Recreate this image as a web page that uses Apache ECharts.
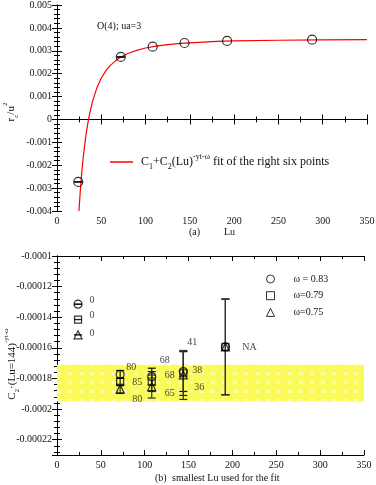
<!DOCTYPE html>
<html>
<head>
<meta charset="utf-8">
<script src="https://cdn.jsdelivr.net/npm/echarts@6/dist/echarts.min.js"></script>
<style>
html,body{margin:0;padding:0;background:#fff;}
#chart{width:376px;height:485px;}
</style>
</head>
<body>
<div id="chart"></div>
<script>
// ---------- Panel (a) data ----------
const topLu = [24, 72, 108, 144, 192, 288];
const topRc = [-0.00273, 0.00273, 0.00318, 0.00334, 0.00343, 0.003485];
const topCapLu = [24, 72];
const topCapRc = [-0.00273, 0.00273];
const fitLu = [24.8, 26, 27, 28, 30, 33, 36, 40, 45, 50, 55, 60, 66, 72, 80, 90, 100, 112, 125, 140, 160, 180, 200, 250, 300, 350];
const fitRc = [-0.004, -0.00329, -0.00277, -0.0023, -0.00151, -0.00059, 0.00009, 0.00078, 0.00138, 0.00181,
               0.00212, 0.00235, 0.00256, 0.00273, 0.00288, 0.00302, 0.00312, 0.0032, 0.00327, 0.00332,
               0.00337, 0.00341, 0.00343, 0.00346, 0.00348, 0.00349];

// ---------- Panel (b) data ----------
const minLu = [24, 72, 108, 144, 192];
const c2w083 = [-0.0001315, -0.0001773, -0.0001788, -0.0001755, -0.0001594];
const err083 = [0, 0.0000025, 0.0000055, 0.000013, 0.0000312];
const c2w079 = [-0.0001415, -0.0001822, -0.000182, -0.0001766, -0.0001594];
const err079 = [0, 0.0000025, 0.0000065, 0.0000145, 0.0000312];
const c2w075 = [-0.0001515, -0.0001868, -0.0001853, -0.0001777, -0.0001594];
const err075 = [0, 0.000003, 0.0000075, 0.000016, 0.0000312];
const q083 = ['0', '80', '68', '41', 'NA'];
const q079 = ['0', '85', '68', '38', ''];
const q075 = ['0', '80', '65', '36', ''];
const band = [-0.000171, -0.000195];
const xTicks = [0, 350, 50];

// ---------- styling ----------
const FONT = 'Liberation Serif';
const off083 = [[14, -4], [11, -7], [13, -16], [9, -29], [24, 0]];
const off079 = [[14, -4], [17, 1], [18, -6], [14, -3], [0, 0]];
const off075 = [[14, -1], [17, 11], [18, 7], [16, 12], [0, 0]];

function fmt(v) { return String(parseFloat(Number(v).toPrecision(6))); }

function makePattern() {
  const c = document.createElement('canvas');
  c.width = 11; c.height = 9;
  const g = c.getContext('2d');
  g.fillStyle = '#fafa5a'; g.fillRect(0, 0, 11, 9);
  g.fillStyle = '#fbfba8'; g.fillRect(2, 3, 4, 3);
  return c;
}

const axLine = { lineStyle: { color: '#000', width: 1 } };
function xAx(grid, pos, showLabel) {
  return {
    gridIndex: grid, type: 'value', position: pos, min: xTicks[0], max: xTicks[1], interval: xTicks[2],
    axisLine: axLine, splitLine: { show: false },
    axisTick: { inside: true, length: 5, lineStyle: { color: '#000' } },
    minorTick: { show: true, splitNumber: 2, length: 3, lineStyle: { color: '#000' } },
    axisLabel: { show: showLabel, fontFamily: FONT, fontSize: 10, color: '#111', margin: 5 }
  };
}
function yAx(grid, pos, showLabel, extra) {
  return Object.assign({
    gridIndex: grid, type: 'value', position: pos,
    axisLine: axLine, splitLine: { show: false },
    axisTick: { inside: true, length: 5, lineStyle: { color: '#000' } },
    minorTick: { show: true, splitNumber: 5, length: 3, lineStyle: { color: '#000' } },
    axisLabel: { show: showLabel, fontFamily: FONT, fontSize: 10, color: '#111', margin: 5, formatter: fmt }
  }, extra);
}

function richSet(big, small) {
  return {
    n: { fontFamily: FONT, fontSize: big, fill: '#111', color: '#111', lineHeight: 18, verticalAlign: 'middle' },
    s: { fontFamily: FONT, fontSize: small, fill: '#111', color: '#111', lineHeight: small, verticalAlign: 'bottom' },
    p: { fontFamily: FONT, fontSize: small, fill: '#111', color: '#111', lineHeight: small, verticalAlign: 'top' }
  };
}
const richAxis = richSet(11, 7);
const richLegend = richSet(12, 8);

const yTopLimits = { min: -0.004, max: 0.005, interval: 0.001 };
// panel b axis shown inverted on the magnitude, labelled with the sign
const yBotLimits = { min: 0.0001, max: 0.00023, interval: 0.00002, inverse: true };

function errRender(color) {
  return function (params, api) {
    const x = api.value(0), lo = api.value(1), hi = api.value(2);
    const a = api.coord([x, lo]), b = api.coord([x, hi]);
    const w = 4;
    const st = { stroke: color, lineWidth: 1.2 };
    return {
      type: 'group', children: [
        { type: 'line', shape: { x1: a[0], y1: a[1], x2: b[0], y2: b[1] }, style: st },
        { type: 'line', shape: { x1: a[0] - w, y1: a[1], x2: a[0] + w, y2: a[1] }, style: st },
        { type: 'line', shape: { x1: b[0] - w, y1: b[1], x2: b[0] + w, y2: b[1] }, style: st }
      ]
    };
  };
}

function errData(vals, errs) {
  return minLu.map((x, i) => [x, -(vals[i] + errs[i]), -(vals[i] - errs[i])]);
}
function ptData(vals, labels, offs) {
  return minLu.map((x, i) => ({
    value: [x, -vals[i]],
    label: { show: labels[i] !== '', formatter: labels[i], offset: offs[i] }
  }));
}
const ptLabel = { position: 'inside', fontFamily: FONT, fontSize: 10, color: '#111' };
const hollow = { color: 'rgba(0,0,0,0)', borderColor: '#000', borderWidth: 1.2 };

const chart = echarts.init(document.getElementById('chart'), null, { renderer: 'canvas' });
chart.setOption({
  animation: false,
  backgroundColor: '#fff',
  grid: [
    { left: 57, right: 9, top: 5, height: 206, outerBoundsMode: 'none', containLabel: false },
    { left: 57, right: 12, top: 256, height: 199, outerBoundsMode: 'none', containLabel: false }
  ],
  xAxis: [xAx(0, 'bottom', true), xAx(0, 'top', false), xAx(1, 'bottom', true), xAx(1, 'top', false)],
  yAxis: [
    yAx(0, 'left', true, yTopLimits),
    yAx(0, 'right', false, yTopLimits),
    yAx(1, 'left', true, Object.assign({}, yBotLimits, {
      axisLabel: { fontFamily: FONT, fontSize: 10, color: '#111', margin: 5, showMaxLabel: false, formatter: v => '-' + fmt(v) }
    })),
    yAx(1, 'right', false, yBotLimits)
  ],
  legend: [
    {
      data: [{ name: 'fit', icon: 'rect' }], left: 105, top: 148, itemWidth: 23, itemHeight: 1.5,
      formatter: () => '{g| }{n|C}{s|1}{n|+C}{s|2}{n|(Lu)}{p|-y}{p|t}{p|-ω}{n| fit of the right six points}',
      textStyle: { rich: Object.assign({ g: { width: 3 } }, richLegend) }
    },
    {
      data: ['ω = 0.83', 'ω=0.79', 'ω=0.75'], orient: 'vertical', left: 261, top: 268,
      itemWidth: 8, itemHeight: 8, itemGap: 4.7,
      itemStyle: { borderWidth: 1 },
      formatter: n => '{g| }{n|' + n + '}',
      textStyle: { rich: { g: { width: 14 }, n: { fontFamily: FONT, fontSize: 10, color: '#111' } } }
    }
  ],
  graphic: [
    { type: 'text', left: 97, top: 21, style: { text: 'O(4); ua=3', font: '10px "Liberation Serif"', fill: '#111' } },
    { type: 'text', left: 189, top: 227, style: { text: '(a)', font: '10px "Liberation Serif"', fill: '#111' } },
    { type: 'text', left: 224, top: 227, style: { text: 'Lu', font: '10px "Liberation Serif"', fill: '#111' } },
    { type: 'text', left: 155, top: 473, style: { text: '(b)', font: '10px "Liberation Serif"', fill: '#111' } },
    { type: 'text', left: 172, top: 473, style: { text: 'smallest Lu used for the fit', font: '10px "Liberation Serif"', fill: '#111' } },
    {
      type: 'text', x: 11, y: 112, rotation: Math.PI / 2,
      style: { text: '{n|r}{s|c}{n|/u}{p|2}', rich: richAxis, align: 'center', verticalAlign: 'middle' }
    },
    {
      type: 'text', x: 12, y: 364, rotation: Math.PI / 2,
      style: { text: '{n|C}{s|2}{n|·(Lu=144)}{p|-y}{p|t}{p|-ω}', rich: richAxis, align: 'center', verticalAlign: 'middle' }
    }
  ],
  series: [
    {
      name: 'fit', type: 'line', xAxisIndex: 0, yAxisIndex: 0, symbol: 'none', smooth: false,
      data: fitLu.map((x, i) => [x, fitRc[i]]), lineStyle: { color: '#ff0000', width: 1.2 }, itemStyle: { color: '#ff0000' }, z: 2
    },
    {
      name: 'rc', type: 'scatter', xAxisIndex: 0, yAxisIndex: 0, symbol: 'circle', symbolSize: 9,
      data: topLu.map((x, i) => [x, topRc[i]]), itemStyle: hollow, z: 3
    },
    {
      name: 'rcErr', type: 'custom', xAxisIndex: 0, yAxisIndex: 0, renderItem: errRender('#000'),
      data: topCapLu.map((x, i) => [x, topCapRc[i], topCapRc[i]]), encode: { x: 0, y: [1, 2] }, z: 3
    },
    {
      name: 'band', type: 'line', xAxisIndex: 2, yAxisIndex: 2, data: [], silent: true,
      markArea: {
        silent: true, itemStyle: { color: { image: makePattern(), repeat: 'repeat' } },
        data: [[{ yAxis: -band[0] }, { yAxis: -band[1] }]]
      }, z: 1
    },
    { name: 'e083', type: 'custom', xAxisIndex: 2, yAxisIndex: 2, renderItem: errRender('#111'), data: errData(c2w083, err083), encode: { x: 0, y: [1, 2] }, z: 3 },
    { name: 'e079', type: 'custom', xAxisIndex: 2, yAxisIndex: 2, renderItem: errRender('#222'), data: errData(c2w079, err079), encode: { x: 0, y: [1, 2] }, z: 3 },
    { name: 'e075', type: 'custom', xAxisIndex: 2, yAxisIndex: 2, renderItem: errRender('#333'), data: errData(c2w075, err075), encode: { x: 0, y: [1, 2] }, z: 3 },
    { name: 'ω = 0.83', type: 'scatter', xAxisIndex: 2, yAxisIndex: 2, symbol: 'circle', symbolSize: 8, itemStyle: hollow, label: ptLabel, data: ptData(c2w083, q083, off083), z: 4 },
    { name: 'ω=0.79', type: 'scatter', xAxisIndex: 2, yAxisIndex: 2, symbol: 'rect', symbolSize: 7, itemStyle: hollow, label: ptLabel, data: ptData(c2w079, q079, off079), z: 4 },
    { name: 'ω=0.75', type: 'scatter', xAxisIndex: 2, yAxisIndex: 2, symbol: 'triangle', symbolSize: 8, itemStyle: hollow, label: ptLabel, data: ptData(c2w075, q075, off075), z: 4 }
  ]
});
</script>
</body>
</html>
